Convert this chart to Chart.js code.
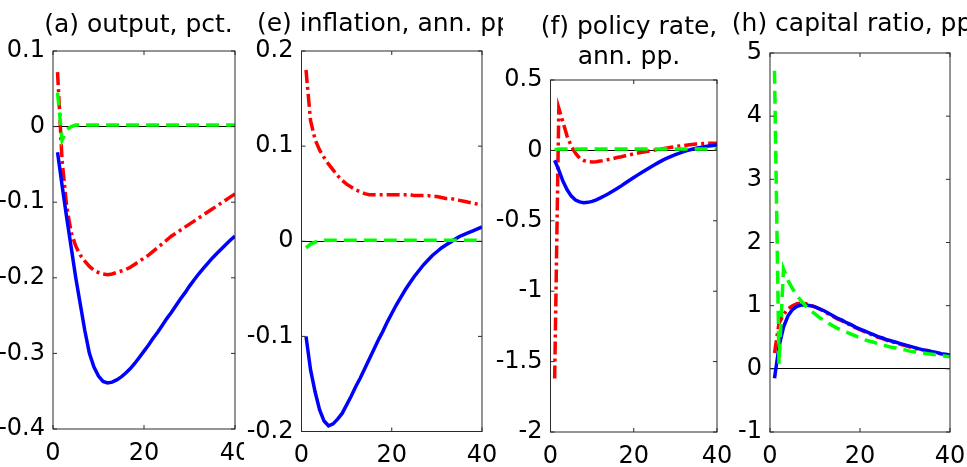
<!DOCTYPE html>
<html>
<head>
<meta charset="utf-8">
<script src="https://cdn.jsdelivr.net/npm/chart.js@4/dist/chart.umd.min.js"></script>
<style>
html, body { margin: 0; padding: 0; background: #fff; }
body { width: 967px; height: 467px; position: relative; overflow: hidden; }
.panel { position: absolute; top: 0; height: 467px; overflow: hidden; }
.panel canvas { position: absolute; top: 0; }
</style>
</head>
<body>
<div class="panel" style="left:0px;width:244px"><canvas id="chartA"></canvas></div>
<div class="panel" style="left:244px;width:259px"><canvas id="chartE"></canvas></div>
<div class="panel" style="left:490px;width:241px"><canvas id="chartF"></canvas></div>
<div class="panel" style="left:731px;width:236px"><canvas id="chartH"></canvas></div>
<script>
// quarters after the shock
const periods = [1, 2, 3, 4, 5, 6, 7, 8, 9, 10, 11, 12, 13, 14, 15, 16, 17, 18, 19, 20,
    21, 22, 23, 24, 25, 26, 27, 28, 29, 30, 31, 32, 33, 34, 35, 36, 37, 38, 39, 40];

// (a) output, pct.
const outputBlue = [-0.034, -0.078, -0.12, -0.16, -0.2, -0.235, -0.27, -0.3, -0.318, -0.33,
    -0.337, -0.339, -0.338, -0.335, -0.331, -0.326, -0.32, -0.313, -0.305, -0.297,
    -0.289, -0.28, -0.272, -0.263, -0.254, -0.246, -0.237, -0.228, -0.22, -0.211,
    -0.203, -0.195, -0.188, -0.181, -0.174, -0.168, -0.162, -0.156, -0.15, -0.145];
const outputRed = [0.072, -0.045, -0.105, -0.14, -0.158, -0.17, -0.178, -0.185, -0.19, -0.193,
    -0.195, -0.196, -0.195, -0.193, -0.191, -0.189, -0.186, -0.182, -0.178, -0.174,
    -0.17, -0.165, -0.16, -0.155, -0.15, -0.145, -0.141, -0.137, -0.133, -0.129,
    -0.125, -0.121, -0.117, -0.113, -0.109, -0.105, -0.101, -0.097, -0.093, -0.089];
const outputGreen = [0.045, -0.018, -0.004, 0, 0.002, 0.002, 0.002, 0.002, 0.002, 0.002,
    0.002, 0.002, 0.002, 0.002, 0.002, 0.002, 0.002, 0.002, 0.002, 0.002,
    0.002, 0.002, 0.002, 0.002, 0.002, 0.002, 0.002, 0.002, 0.002, 0.002,
    0.002, 0.002, 0.002, 0.002, 0.002, 0.002, 0.002, 0.002, 0.002, 0.002];

// (e) inflation, ann. pp.
const inflBlue = [-0.1, -0.135, -0.158, -0.177, -0.189, -0.194, -0.192, -0.187, -0.181, -0.172,
    -0.163, -0.153, -0.144, -0.134, -0.124, -0.114, -0.104, -0.095, -0.085, -0.076,
    -0.067, -0.059, -0.051, -0.044, -0.037, -0.031, -0.025, -0.02, -0.015, -0.011,
    -0.007, -0.004, -0.001, 0.002, 0.005, 0.007, 0.009, 0.011, 0.013, 0.015];
const inflRed = [0.18, 0.127, 0.107, 0.096, 0.088, 0.081, 0.075, 0.069, 0.064, 0.06,
    0.057, 0.054, 0.052, 0.05, 0.049, 0.049, 0.049, 0.049, 0.049, 0.049,
    0.049, 0.049, 0.049, 0.049, 0.048, 0.048, 0.048, 0.048, 0.047, 0.047,
    0.046, 0.045, 0.045, 0.044, 0.043, 0.042, 0.041, 0.04, 0.039, 0.038];
const inflGreen = [-0.007, -0.003, -0.001, 0.001, 0.001, 0.001, 0.001, 0.001, 0.001, 0.001,
    0.001, 0.001, 0.001, 0.001, 0.001, 0.001, 0.001, 0.001, 0.001, 0.001,
    0.001, 0.001, 0.001, 0.001, 0.001, 0.001, 0.001, 0.001, 0.001, 0.001,
    0.001, 0.001, 0.001, 0.001, 0.001, 0.001, 0.001, 0.001, 0.001, 0.001];

// (f) policy rate, ann. pp.
const policyBlue = [-0.07, -0.14, -0.22, -0.28, -0.325, -0.352, -0.366, -0.371, -0.369, -0.362,
    -0.351, -0.337, -0.322, -0.306, -0.289, -0.271, -0.252, -0.232, -0.212, -0.193,
    -0.174, -0.155, -0.137, -0.119, -0.102, -0.085, -0.069, -0.055, -0.042, -0.03,
    -0.019, -0.009, 0, 0.008, 0.015, 0.021, 0.026, 0.031, 0.035, 0.038];
const policyRed = [-1.62, 0.3, 0.2, 0.1, 0.03, -0.02, -0.055, -0.072, -0.08, -0.082,
    -0.08, -0.076, -0.07, -0.064, -0.058, -0.051, -0.045, -0.038, -0.031, -0.025,
    -0.019, -0.013, -0.008, -0.003, 0.002, 0.007, 0.012, 0.017, 0.022, 0.027,
    0.031, 0.035, 0.039, 0.042, 0.045, 0.047, 0.049, 0.05, 0.05, 0.05];
const policyGreen = [0.005, 0.01, 0.01, 0.01, 0.01, 0.01, 0.01, 0.01, 0.01, 0.01,
    0.01, 0.01, 0.01, 0.01, 0.01, 0.01, 0.01, 0.01, 0.01, 0.01,
    0.01, 0.01, 0.01, 0.01, 0.01, 0.01, 0.01, 0.01, 0.01, 0.01,
    0.01, 0.01, 0.01, 0.01, 0.01, 0.01, 0.01, 0.01, 0.01, 0.01];

// (h) capital ratio, pp.
const capBlue = [-0.15, 0.35, 0.66, 0.84, 0.94, 0.99, 1.01, 1.01, 1.0, 0.98,
    0.95, 0.92, 0.88, 0.84, 0.8, 0.77, 0.73, 0.7, 0.66, 0.63,
    0.6, 0.57, 0.54, 0.51, 0.49, 0.46, 0.44, 0.42, 0.4, 0.38,
    0.36, 0.34, 0.32, 0.3, 0.29, 0.27, 0.26, 0.24, 0.23, 0.22];
const capRed = [0.25, 0.72, 0.86, 0.95, 1.0, 1.03, 1.04, 1.03, 1.01, 0.98,
    0.95, 0.91, 0.87, 0.83, 0.79, 0.76, 0.72, 0.69, 0.65, 0.62,
    0.59, 0.56, 0.53, 0.5, 0.48, 0.45, 0.43, 0.41, 0.39, 0.37,
    0.35, 0.33, 0.31, 0.3, 0.28, 0.27, 0.25, 0.24, 0.22, 0.21];
const capGreen = [4.72, 0.08, 1.58, 1.4, 1.27, 1.16, 1.07, 0.99, 0.92, 0.87,
    0.81, 0.77, 0.72, 0.68, 0.64, 0.61, 0.58, 0.55, 0.52, 0.49,
    0.46, 0.44, 0.42, 0.4, 0.38, 0.36, 0.34, 0.33, 0.31, 0.3,
    0.28, 0.27, 0.26, 0.25, 0.24, 0.23, 0.22, 0.21, 0.2, 0.19];

Chart.defaults.font.family = '"DejaVu Sans", sans-serif';
Chart.defaults.font.size = 24;
Chart.defaults.color = '#000';

// matlab style box with inward ticks
const boxPlugin = {
    id: 'matlabBox',
    afterDatasetsDraw(chart) {
        const ctx = chart.ctx;
        const a = chart.chartArea;
        const x = chart.scales.x, y = chart.scales.y;
        ctx.save();
        ctx.strokeStyle = '#2b2b2b';
        ctx.lineWidth = 1;
        ctx.strokeRect(a.left, a.top, a.right - a.left, a.bottom - a.top);
        ctx.beginPath();
        x.ticks.forEach(t => {
            const px = x.getPixelForValue(t.value);
            ctx.moveTo(px, a.bottom); ctx.lineTo(px, a.bottom - 4);
            ctx.moveTo(px, a.top); ctx.lineTo(px, a.top + 4);
        });
        y.ticks.forEach(t => {
            const py = y.getPixelForValue(t.value);
            ctx.moveTo(a.left, py); ctx.lineTo(a.left + 4, py);
            ctx.moveTo(a.right, py); ctx.lineTo(a.right - 4, py);
        });
        ctx.stroke();
        ctx.restore();
    }
};

function toPoints(values) {
    return values.map((v, i) => ({x: periods[i], y: v}));
}

// g: canvas left (page), title centre x / y, plot left/right/top/bottom (page coords)
function makeChart(id, g, title, yMin, yMax, yStep, blue, red, green) {
    const canvas = document.getElementById(id);
    const wrapLeft = canvas.parentNode.offsetLeft;
    // the title spans [canvas left, title box right]; a blank right scale moves the plot edge
    const titleBoxW = 2 * (g.titleX - g.left);
    const spacerW = titleBoxW - (g.plotRight - g.left);
    const width = titleBoxW + 4;
    const lines = Array.isArray(title) ? title.length : 1;
    const lh = g.lineHeight || 30;
    const titleTop = g.titleY - lh / 2;
    canvas.width = width;
    canvas.height = 467;
    canvas.style.left = (g.left - wrapLeft) + 'px';

    return new Chart(canvas, {
        type: 'line',
        data: {
            datasets: [
                {data: toPoints(green), borderColor: '#00ff00', borderWidth: 3.5, borderDash: [13, 7]},
                {data: toPoints(blue), borderColor: '#0000ff', borderWidth: 3.5},
                {data: toPoints(red), borderColor: '#ff0000', borderWidth: 3.5, borderDash: [13, 4, 3, 4]}
            ]
        },
        options: {
            responsive: false,
            animation: false,
            events: [],
            layout: {padding: {left: 0, right: width - titleBoxW, top: 0, bottom: 0}},
            elements: {point: {radius: 0}, line: {tension: 0, fill: false}},
            plugins: {
                legend: {display: false},
                tooltip: {enabled: false},
                title: {
                    display: true,
                    text: title,
                    color: '#000',
                    font: {size: 25, weight: 'normal', lineHeight: lh / 25},
                    padding: {top: titleTop, bottom: g.plotTop - titleTop - lines * lh}
                }
            },
            scales: {
                x: {
                    type: 'linear',
                    min: 0, max: 40,
                    grid: {display: false},
                    border: {display: false},
                    ticks: {stepSize: 20, padding: 2, maxRotation: 0},
                    afterFit(scale) { scale.height = 467 - g.plotBottom; }
                },
                y: {
                    min: yMin, max: yMax,
                    grid: {
                        drawTicks: false,
                        lineWidth: 1,
                        color: c => (c.tick && Math.abs(c.tick.value) < 1e-9) ? '#000' : 'rgba(0,0,0,0)'
                    },
                    border: {display: false},
                    ticks: {
                        stepSize: yStep, padding: 8,
                        callback: v => String(Math.round(v * 100) / 100)
                    },
                    afterFit(scale) { scale.width = g.plotLeft - g.left; }
                },
                spacer: {
                    position: 'right',
                    min: yMin, max: yMax,
                    grid: {display: false},
                    border: {display: false},
                    ticks: {display: false},
                    afterFit(scale) { scale.width = spacerW; }
                }
            }
        },
        plugins: [boxPlugin]
    });
}

makeChart('chartA', {left: -12, titleX: 138.5, titleY: 25, plotLeft: 53, plotRight: 235, plotTop: 51, plotBottom: 429},
    '(a) output, pct.', -0.4, 0.1, 0.1, outputBlue, outputRed, outputGreen);
makeChart('chartE', {left: 240, titleX: 388.5, titleY: 24.5, plotLeft: 301.5, plotRight: 482, plotTop: 51, plotBottom: 431.5},
    '(e) inflation, ann. pp.', -0.2, 0.2, 0.1, inflBlue, inflRed, inflGreen);
makeChart('chartF', {left: 490, titleX: 629, titleY: 27, lineHeight: 30, plotLeft: 550.5, plotRight: 717, plotTop: 80, plotBottom: 432},
    ['(f) policy rate,', 'ann. pp.'], -2, 0.5, 0.5, policyBlue, policyRed, policyGreen);
makeChart('chartH', {left: 710, titleX: 856, titleY: 24.5, plotLeft: 770, plotRight: 950, plotTop: 53, plotBottom: 432},
    '(h) capital ratio, pp.', -1, 5, 1, capBlue, capRed, capGreen);
</script>
</body>
</html>
